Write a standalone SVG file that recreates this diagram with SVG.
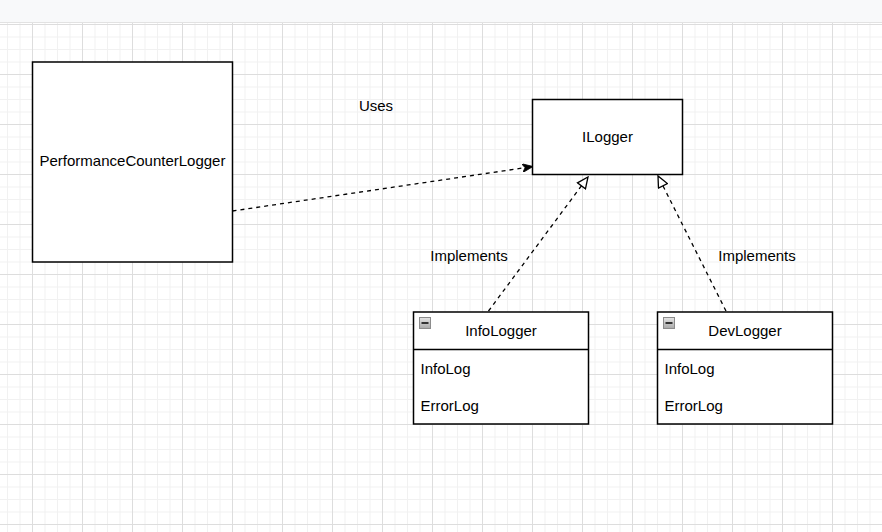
<svg xmlns="http://www.w3.org/2000/svg" width="882" height="532" viewBox="0 0 882 532">
  <style>
    .box { fill: #ffffff; stroke: #000000; stroke-width: 1.5; }
    .lbl { font-family: "Liberation Sans", Arial, sans-serif; font-size: 15px; fill: #000000; }
    .mid { text-anchor: middle; }
    .edge { fill: none; stroke: #000000; stroke-width: 1.3; stroke-dasharray: 4 4; }
  </style>
  <defs>
    <pattern id="grid" patternUnits="userSpaceOnUse" x="32" y="24" width="50" height="50">
      <rect x="0" y="0" width="50" height="50" fill="#ffffff"/>
      <rect x="12.5" y="0" width="1" height="50" fill="#f1f1f1"/>
      <rect x="25" y="0" width="1" height="50" fill="#f1f1f1"/>
      <rect x="37.5" y="0" width="1" height="50" fill="#f1f1f1"/>
      <rect x="0" y="12.5" width="50" height="1" fill="#f1f1f1"/>
      <rect x="0" y="25" width="50" height="1" fill="#f1f1f1"/>
      <rect x="0" y="37.5" width="50" height="1" fill="#f1f1f1"/>
      <rect x="0" y="0" width="1" height="50" fill="#dddddd"/>
      <rect x="0" y="0" width="50" height="1" fill="#dddddd"/>
    </pattern>
    <linearGradient id="iconGrad" x1="0" y1="0" x2="0" y2="1">
      <stop offset="0" stop-color="#e6e6e6"/>
      <stop offset="1" stop-color="#a8a8a8"/>
    </linearGradient>
    <marker id="classic" markerUnits="userSpaceOnUse" viewBox="0 0 11 9" refX="11" refY="4.5" markerWidth="11" markerHeight="9" orient="auto">
      <path d="M0,0 L11,4.5 L0,9 L3,4.5 Z" fill="#000000" stroke="#000000" stroke-width="0.8"/>
    </marker>
    <marker id="block" markerUnits="userSpaceOnUse" viewBox="-1 -1 13 12" refX="11" refY="5" markerWidth="13" markerHeight="12" orient="auto">
      <path d="M0,0 L11,5 L0,10 Z" fill="#ffffff" stroke="#000000" stroke-width="1.3"/>
    </marker>
  </defs>

  <rect x="0" y="0" width="882" height="532" fill="#ffffff"/>
  <rect x="0" y="23" width="882" height="509" fill="url(#grid)"/>
  <rect x="0" y="0" width="882" height="22" fill="#f8f9fa"/>
  <rect x="0" y="22" width="882" height="1" fill="#e2e2e2"/>

  <g id="connectors">
    <path class="edge" d="M232.5,211 L533,166.5" marker-end="url(#classic)"/>
    <path class="edge" d="M488.5,311 L588,177" marker-end="url(#block)"/>
    <path class="edge" d="M726,311 L658,176" marker-end="url(#block)"/>
    <text class="lbl mid" x="376" y="111">Uses</text>
    <text class="lbl mid" x="469" y="261">Implements</text>
    <text class="lbl mid" x="757" y="261">Implements</text>
  </g>

  <g id="PerformanceCounterLogger">
    <rect class="box" x="32.5" y="62" width="200" height="200"/>
    <text class="lbl mid" x="132.5" y="166">PerformanceCounterLogger</text>
  </g>

  <g id="ILogger">
    <rect class="box" x="532.5" y="99.5" width="150" height="75"/>
    <text class="lbl mid" x="607.5" y="142">ILogger</text>
  </g>

  <g id="InfoLogger">
    <rect class="box" x="413.5" y="312" width="175" height="112"/>
    <line x1="413.5" y1="349.5" x2="588.5" y2="349.5" stroke="#000000" stroke-width="1.5"/>
    <rect x="419.5" y="317.5" width="11" height="11" fill="url(#iconGrad)" stroke="#8c8c8c" stroke-width="1"/>
    <rect x="421.5" y="322" width="7" height="2" fill="#333333"/>
    <text class="lbl mid" x="501" y="336">InfoLogger</text>
    <text class="lbl" x="420.5" y="374">InfoLog</text>
    <text class="lbl" x="420.5" y="411">ErrorLog</text>
  </g>

  <g id="DevLogger">
    <rect class="box" x="657.5" y="312" width="175" height="112"/>
    <line x1="657.5" y1="349.5" x2="832.5" y2="349.5" stroke="#000000" stroke-width="1.5"/>
    <rect x="663.5" y="317.5" width="11" height="11" fill="url(#iconGrad)" stroke="#8c8c8c" stroke-width="1"/>
    <rect x="665.5" y="322" width="7" height="2" fill="#333333"/>
    <text class="lbl mid" x="745" y="336">DevLogger</text>
    <text class="lbl" x="664.5" y="374">InfoLog</text>
    <text class="lbl" x="664.5" y="411">ErrorLog</text>
  </g>
</svg>
